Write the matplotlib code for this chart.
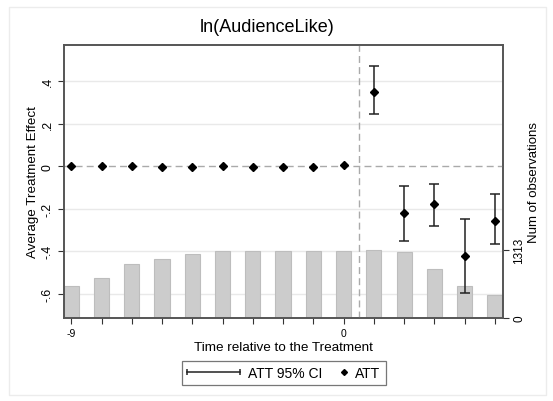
import matplotlib
matplotlib.use("Agg")
import matplotlib.pyplot as plt
import matplotlib.transforms as mtransforms
from matplotlib.lines import Line2D
from matplotlib.legend_handler import HandlerLine2D
from matplotlib.patches import Rectangle

plt.rcParams['font.family'] = ['Liberation Sans', 'DejaVu Sans']

# Data
periods = [-9, -8, -7, -6, -5, -4, -3, -2, -1, 0, 1, 2, 3, 4, 5]
att = [0.003, 0.0, 0.0, -0.005, -0.002, 0.0, -0.003, -0.003, -0.003, 0.005,
       0.350, -0.222, -0.178, -0.422, -0.256]
ci_low = [0.003, 0.0, 0.0, -0.005, -0.002, 0.0, -0.003, -0.003, -0.003, 0.005,
          0.247, -0.352, -0.281, -0.595, -0.367]
ci_high = [0.003, 0.0, 0.0, -0.005, -0.002, 0.0, -0.003, -0.003, -0.003, 0.005,
           0.473, -0.094, -0.081, -0.250, -0.131]
n_obs = [610, 772, 1043, 1126, 1222, 1294, 1286, 1294, 1294, 1294,
         1313, 1261, 946, 624, 450]
yticks = [0.4, 0.2, 0, -0.2, -0.4, -0.6]
ytick_labels = ['.4', '.2', '0', '-.2', '-.4', '-.6']

fig = plt.figure(figsize=(5.53, 4.02), dpi=100)
fig.patch.set_facecolor('white')
# outer light frame
fig.patches.append(Rectangle((9/553, 6/402), 537/553, 388/402, transform=fig.transFigure,
                             fill=False, edgecolor='#ececec', linewidth=1.0))

rect = [64/553, 1 - 319/402, 439/553, 273/402]
ax = fig.add_axes(rect)
ax2 = ax.twinx()
ax.set_zorder(ax2.get_zorder() + 1)
ax.patch.set_visible(False)
ax2.patch.set_facecolor('white')

xmin, xmax = -9.24, 5.27
ymin, ymax = -0.714, 0.571
ax.set_xlim(xmin, xmax)
ax.set_ylim(ymin, ymax)

# grid lines drawn beneath the bars (on ax2, in ax's y coordinates)
blend = mtransforms.blended_transform_factory(ax.transAxes, ax.transData)
for yv in yticks:
    if yv == 0:
        continue
    ax2.add_line(Line2D([0, 1], [yv, yv], transform=blend, color='#e9e9e9', lw=1.0, zorder=0))

# bars
max_n = max(n_obs)
ax2.bar(periods, n_obs, width=0.5, color='#cccccc', edgecolor='#bdbdbd', linewidth=0.8, zorder=1)
ax2.set_ylim(0, 4 * max_n)
ax2.set_yticks([0, max_n])
ax2.set_yticklabels(['0', str(max_n)], rotation=90, va='center', fontsize=8.5)
ax2.set_ylabel('Num of observations', fontsize=9.5, labelpad=2)

# reference lines
ax.axhline(0, color='#aaaaaa', lw=1.0, dashes=(5, 3), zorder=1)
ax.axvline(0.5, color='#aaaaaa', lw=1.0, dashes=(5, 3), zorder=1)

# CI and points
post = [i for i, p in enumerate(periods) if p > 0]
yerr_lo = [att[i] - ci_low[i] for i in range(len(periods))]
yerr_hi = [ci_high[i] - att[i] for i in range(len(periods))]
ax.errorbar([periods[i] for i in post], [att[i] for i in post],
            yerr=[[yerr_lo[i] for i in post], [yerr_hi[i] for i in post]],
            fmt='none', ecolor='#222222', elinewidth=1.1, capsize=3.3, capthick=1.1, zorder=3)
ax.plot(periods, att, linestyle='none', marker='D', markersize=3.6, color='black', zorder=4)

ax.set_yticks(yticks)
ax.set_yticklabels(ytick_labels, rotation=90, va='center', fontsize=8.8)
ax.set_xticks(periods)
ax.set_xticklabels(['-9' if p == -9 else ('0' if p == 0 else '') for p in periods], fontsize=7.5)
ax.tick_params(axis='both', direction='out', length=4, width=0.8, color='#333333')
ax2.tick_params(axis='y', direction='out', length=4, width=0.8, color='#333333')

for a in (ax, ax2):
    for s in a.spines.values():
        s.set_color('#555555')
        s.set_linewidth(1.2)

ax.set_ylabel('Average Treatment Effect', fontsize=9.6, labelpad=2)
ax.set_xlabel('Time relative to the Treatment', fontsize=9.7, labelpad=2)
fig.text(267/553, 1 - 27/402, 'ln(AudienceLike)', fontsize=13, ha='center', va='center')


class RightMarkerHandler(HandlerLine2D):
    def get_xdata(self, legend, xdescent, ydescent, width, height, fontsize):
        xm = -xdescent + width - 3
        return [xm, xm], [xm]


h_ci = Line2D([], [], color='#222222', lw=1.1, marker='|', markersize=5, markeredgewidth=1.1)
h_att = Line2D([], [], color='black', linestyle='none', marker='D', markersize=3)
leg = fig.legend([h_ci, h_att], ['ATT 95% CI', 'ATT'], loc='center',
                 bbox_to_anchor=(284/553, 1 - 374/402), ncol=2, frameon=True, fancybox=False,
                 fontsize=10, handlelength=3.8, columnspacing=-1.95, handletextpad=0.55,
                 borderpad=0.35, borderaxespad=0,
                 handler_map={h_ci: HandlerLine2D(numpoints=2, marker_pad=0),
                              h_att: RightMarkerHandler(numpoints=1)})
leg.get_frame().set_edgecolor('#555555')
leg.get_frame().set_linewidth(0.9)

fig.savefig('out.png', dpi=100)
